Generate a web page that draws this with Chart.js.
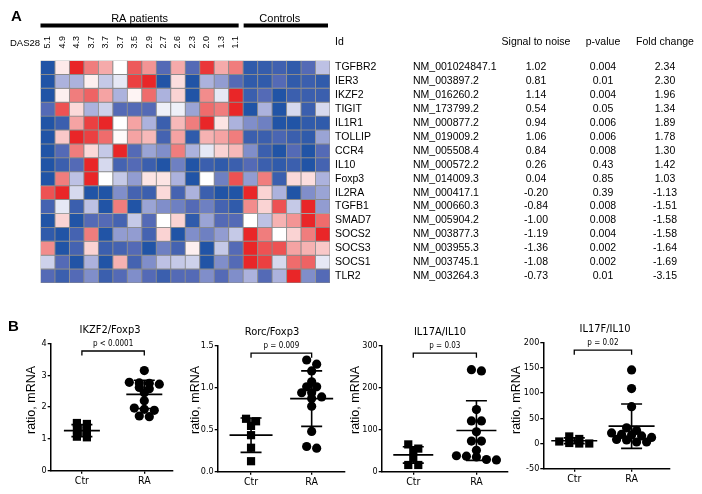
<!DOCTYPE html>
<html><head><meta charset="utf-8">
<script src="https://cdn.jsdelivr.net/npm/chart.js@4.4.1/dist/chart.umd.min.js"></script>
<style>
html,body{margin:0;padding:0;background:#fff;width:702px;height:494px;overflow:hidden;}
canvas{position:absolute;left:0;top:0;}
</style></head><body>
<canvas id="heat" width="702" height="494"></canvas>
<canvas id="p1" width="702" height="494"></canvas>
<canvas id="p2" width="702" height="494"></canvas>
<canvas id="p3" width="702" height="494"></canvas>
<canvas id="p4" width="702" height="494"></canvas>
<script>
// ---------- DATA ----------
const das28 = ['5.1','4.9','4.3','3.7','3.7','3.7','3.5','2.9','2.7','2.6','2.3','2.0','1.3','1.1','','','','','',''];
const genes = ['TGFBR2','IER3','IKZF2','TIGIT','IL1R1','TOLLIP','CCR4','IL10','Foxp3','IL2RA','TGFB1','SMAD7','SOCS2','SOCS3','SOCS1','TLR2'];
const refseq = ['NM_001024847.1','NM_003897.2','NM_016260.2','NM_173799.2','NM_000877.2','NM_019009.2','NM_005508.4','NM_000572.2','NM_014009.3','NM_000417.1','NM_000660.3','NM_005904.2','NM_003877.3','NM_003955.3','NM_003745.1','NM_003264.3'];
const signalToNoise = ['1.02','0.81','1.14','0.54','0.94','1.06','0.84','0.26','0.04','-0.20','-0.84','-1.00','-1.19','-1.36','-1.08','-0.73'];
const pValue = ['0.004','0.01','0.004','0.05','0.006','0.006','0.008','0.43','0.85','0.39','0.008','0.008','0.004','0.002','0.002','0.01'];
const foldChange = ['2.34','2.30','1.96','1.34','1.89','1.78','1.30','1.42','1.03','-1.13','-1.51','-1.58','-1.58','-1.64','-1.69','-3.15'];
// relative expression (blue = low, red = high), one row per gene, 14 RA + 6 controls
const zScores = [
 [-3,0.4,3,2,1.4,0,2.4,1.7,-2,1.4,-2,2.8,1.4,2,-2.7,-2.6,-2.4,-2.7,-2,-0.8],
 [-3,-1,-1,0.3,-0.7,-0.3,2.7,3,-3,0.6,-3,-1,-1.3,-2,-2.7,-2.7,-2,-2.7,-2.5,-2.7],
 [-3,0.3,2,2.3,1.5,-1,0.2,2.2,-1,0.8,-3,1.8,-0.3,3,-2.5,-2,-3,-2.5,-2.5,-2.5],
 [-2,2.5,0.7,-1,-0.6,-2,-2,-2,-0.2,-0.2,-1.2,2.2,2,3,-3,-1,-3,-0.5,-2.5,-0.5],
 [-3,-2.5,1.5,2.7,3,0,1.5,-1,-2.5,1.2,2,3,0.5,-1,-1.5,-1.7,-3,-3,-2.7,-2.7],
 [-3,1,3,2.7,2.2,0.1,1.5,1.2,-2.3,1.5,-2.7,1.3,1.5,2,-2.5,-2.5,-2.2,-2.5,-2.7,-1.2],
 [-3,-2,2,0.7,-0.7,3,-2,-1.2,-1.5,2,-1,-0.3,0.8,1.2,-1.5,-2.5,-3,-2,-3,-2],
 [-3,-2.5,-2,3,-0.5,-2.3,-2,-2.5,-3,-1.7,-3,-2.5,-2.7,-2.5,-2,-2.5,-2.7,-2.5,-3,-2.3],
 [-3,2,-0.8,3,0,-0.7,-1.3,0.5,0.5,-1,-3,0,-1.7,2.5,-1.3,2,-2.5,0.7,0.6,-1],
 [2.5,3,-0.5,-3,-3,-1.5,-2.3,-2.5,0.7,-2.3,-1,-2.5,-3,-3,3,0.8,-1,-3,-1.5,-1.2],
 [-2.3,-0.3,-2.5,-0.8,-3,2,-3,-1.2,-1.5,-1.7,-2,-1.7,-2.3,-2.7,1.8,0.8,2.5,-0.7,3,-1.3],
 [-3,0.8,-3,-2,-2,-2.3,-0.7,-2,0,0.8,-2.7,-1.2,-2,-2,0,-0.8,1.3,1.7,3,2.2],
 [-2.7,-3,-2.3,2,-3,-1.3,-1.3,-2.3,0.8,-3,-1.5,-1.7,-1.3,-0.7,3,2,0,0.8,2,3],
 [1.8,-3,-2.3,0.8,-2.5,-2.3,-2,-3,-1.7,-2.3,0.3,-3,-0.7,-2,3,2.5,2.5,1.5,1.3,1],
 [-0.6,-2,-3,-1,-3,1.3,-2.3,-1.5,-0.8,-0.7,-0.6,-3,-1.5,-2,3,2.7,-0.5,2.2,2.3,-0.3],
 [-2,-2.5,-2,-1.5,-2.5,-2,-1.5,-2,-2.5,-2,-2,-1.5,-2,-1.5,-1,-2,-1,3,-1.5,-2]
];
const groupLabels = ['Ctr','RA'];
const ikzfCtr = [1.5,1.47,1.3,1.25,1.07,1.05];
const ikzfRA = [3.15,2.78,2.76,2.75,2.72,2.62,2.58,2.45,2.2,1.97,1.93,1.9,1.72,1.7];
const ikzfMean = [1.26,2.40], ikzfSD = [0.19,0.445];
const rorcCtr = [0.60,0.63,0.545,0.435,0.285,0.125];
const rorcRA = [1.33,1.28,1.20,1.07,1.01,1.01,0.94,0.94,0.89,0.87,0.78,0.48,0.30,0.28];
const rorcMean = [0.435,0.87], rorcSD = [0.205,0.33];
const il17aCtr = [55,65,49,33,16,16];
const il17aRA = [243,240,148,121,121,95,73,73,51,38,37,35,29,28];
const il17aMean = [40,98], il17aSD = [19.5,71];
const il17fCtr = [9,1,0,0,4,14];
const il17fRA = [146,109,73,31,26,21,18,17,15,12,8,7,3,3];
const il17fMean = [5.5,34.4], il17fSD = [5.7,44];
const pTexts = ['p < 0.0001','p = 0.009','p = 0.03','p = 0.02'];
const panelTitles = ['IKZF2/Foxp3','Rorc/Foxp3','IL17A/IL10','IL17F/IL10'];

// ---------- STYLE ----------
const SANS = "'Liberation Sans', Arial, Helvetica, sans-serif";
const NARROW = "'Liberation Sans Narrow','Arial Narrow','DejaVu Sans Condensed',sans-serif";
Chart.defaults.font.family = SANS;
Chart.defaults.color = '#000';
const W = 702, H = 494;

const heatStops = [[-3,[33,84,166]],[-2,[84,106,182]],[-1,[172,178,221]],[0,[255,255,255]],[1,[249,200,200]],[2,[240,125,125]],[3,[233,38,40]]];
function heatColor(v){
  v = Math.max(-3, Math.min(3, v));
  for (let i = 0; i < heatStops.length - 1; i++) {
    const [a, ca] = heatStops[i], [b, cb] = heatStops[i+1];
    if (v <= b) { const t = (v - a) / (b - a);
      return 'rgb(' + ca.map((c,k)=>Math.round(c + (cb[k]-c)*t)).join(',') + ')'; }
  }
}

// ---------- HEATMAP ----------
const heatDecor = {
  id: 'heatDecor',
  afterDraw(chart) {
    const ctx = chart.ctx, xs = chart.scales.x, ys = chart.scales.y;
    const half = (xs.getPixelForValue(1) - xs.getPixelForValue(0)) / 2;
    const top = chart.chartArea.top;
    ctx.save();
    ctx.fillStyle = '#000';
    ctx.font = 'bold 15px ' + SANS; ctx.textAlign = 'left'; ctx.textBaseline = 'alphabetic';
    ctx.fillText('A', 11, 21);
    const raL = xs.getPixelForValue(0) - half, raR = xs.getPixelForValue(13) + half - 4.5;
    const coL = xs.getPixelForValue(14) - half + 0.5, coR = xs.getPixelForValue(19) + half - 2;
    ctx.fillRect(raL, top - 37, raR - raL, 4);
    ctx.fillRect(coL, top - 37, coR - coL, 4);
    ctx.font = '11px ' + SANS; ctx.textAlign = 'center';
    ctx.fillText('RA patients', (raL + raR) / 2, top - 39);
    ctx.fillText('Controls', (coL + coR) / 2 - 6, top - 39);
    ctx.font = '9.5px ' + SANS; ctx.textAlign = 'left';
    ctx.fillText('DAS28', 10, top - 14.5);
    ctx.font = '9px ' + SANS;
    das28.forEach((d, i) => {
      if (!d) return;
      ctx.save();
      ctx.translate(xs.getPixelForValue(i), top - 12);
      ctx.rotate(-Math.PI / 2);
      ctx.textAlign = 'left'; ctx.textBaseline = 'middle';
      ctx.fillText(d, 0, 0);
      ctx.restore();
    });
    // table
    const colGene = 335, colId = 413, colSN = 536, colP = 603, colFC = 665;
    ctx.font = '10.5px ' + SANS; ctx.textBaseline = 'alphabetic';
    const hy = top - 15.5;
    ctx.textAlign = 'left'; ctx.fillText('Id', colGene, hy);
    ctx.textAlign = 'center';
    ctx.fillText('Signal to noise', colSN, hy);
    ctx.fillText('p-value', colP, hy);
    ctx.fillText('Fold change', colFC, hy);
    ctx.textBaseline = 'middle';
    genes.forEach((g, r) => {
      const y = ys.getPixelForValue(r + 0.5);
      ctx.textAlign = 'left';
      ctx.fillText(g, colGene, y);
      ctx.fillText(refseq[r], colId, y);
      ctx.textAlign = 'center';
      ctx.fillText(signalToNoise[r], colSN, y);
      ctx.fillText(pValue[r], colP, y);
      ctx.fillText(foldChange[r], colFC, y);
    });
    ctx.restore();
  }
};

new Chart(document.getElementById('heat'), {
  type: 'bar',
  data: {
    labels: das28.map((d, i) => 'col' + i),
    datasets: genes.map((g, r) => ({
      label: g,
      data: zScores[r].map(() => 1),
      backgroundColor: zScores[r].map(heatColor),
      borderColor: '#8a8a8a', borderWidth: 0.8, borderSkipped: false,
      barPercentage: 1, categoryPercentage: 1
    }))
  },
  options: {
    responsive: false, animation: false, devicePixelRatio: 1,
    layout: { padding: { left: 40.5, right: W - 330, top: 60.5, bottom: H - 283 } },
    plugins: { legend: { display: false }, tooltip: { enabled: false }, title: { display: false } },
    scales: {
      x: { stacked: true, display: false },
      y: { stacked: true, display: false, min: 0, max: 16, reverse: true }
    }
  },
  plugins: [heatDecor]
});

// ---------- SCATTER PANELS ----------
const panels = [
  { id:'p1', ctr:ikzfCtr, ra:ikzfRA, mean:ikzfMean, sd:ikzfSD, yMin:0, yMax:4, step:1, dec:0,
    area:[50.7,343.5,173,470.7], xr:[-0.5,1.46], titleX:110, yTitleX:31.7, meanW:36, letter:true },
  { id:'p2', ctr:rorcCtr, ra:rorcRA, mean:rorcMean, sd:rorcSD, yMin:0, yMax:1.5, step:0.5, dec:1,
    area:[217.7,345.7,345,471.7], xr:[-0.55,1.55], titleX:272, yTitleX:195.7, meanW:43 },
  { id:'p3', ctr:il17aCtr, ra:il17aRA, mean:il17aMean, sd:il17aSD, yMin:0, yMax:300, step:100, dec:0,
    area:[381.7,345.7,508,471.7], xr:[-0.5,1.5], titleX:440, yTitleX:356, meanW:40 },
  { id:'p4', ctr:il17fCtr, ra:il17fRA, mean:il17fMean, sd:il17fSD, yMin:-50, yMax:200, step:50, dec:0,
    area:[543.3,342.7,670,468.7], xr:[-0.54,1.67], titleX:605, yTitleX:516.7, meanW:46 }
];

// column-scatter layout: points whose pixel heights fall within one band share a row, centred on the group
function swarm(values, center, xs, ys, spacing, band) {
  const out = new Array(values.length);
  const cx = xs.getPixelForValue(center);
  const order = values.map((v, i) => i).sort((a, b) => values[b] - values[a]);
  const rows = [];
  order.forEach(i => {
    const py = ys.getPixelForValue(values[i]);
    const last = rows[rows.length - 1];
    if (last && py - last.start <= band) last.items.push(i);
    else rows.push({ start: py, items: [i] });
  });
  rows.forEach(r => {
    const n = r.items.length;
    r.items.forEach((i, j) => {
      out[i] = xs.getValueForPixel(cx + (j - (n - 1) / 2) * spacing);
    });
  });
  return out;
}

function makeDecor(P, idx) {
  return {
    id: 'decor' + idx,
    afterDatasetsDraw(chart) {
      const ctx = chart.ctx, xs = chart.scales.x, ys = chart.scales.y;
      ctx.save();
      ctx.strokeStyle = '#000'; ctx.lineWidth = 1.6;
      [0, 1].forEach(g => {
        const cx = xs.getPixelForValue(g);
        const m = ys.getPixelForValue(P.mean[g]);
        const hi = ys.getPixelForValue(P.mean[g] + P.sd[g]);
        const lo = ys.getPixelForValue(P.mean[g] - P.sd[g]);
        ctx.beginPath();
        ctx.moveTo(cx - P.meanW / 2, m); ctx.lineTo(cx + P.meanW / 2, m);
        ctx.moveTo(cx - 10.5, hi); ctx.lineTo(cx + 10.5, hi);
        ctx.moveTo(cx - 10.5, lo); ctx.lineTo(cx + 10.5, lo);
        ctx.moveTo(cx, hi); ctx.lineTo(cx, lo);
        ctx.stroke();
      });
      ctx.restore();
    },
    afterDraw(chart) {
      const ctx = chart.ctx, xs = chart.scales.x;
      const top = chart.chartArea.top;
      ctx.save();
      ctx.fillStyle = '#000'; ctx.strokeStyle = '#000';
      if (P.letter) {
        ctx.font = 'bold 15px ' + SANS; ctx.textAlign = 'left'; ctx.textBaseline = 'alphabetic';
        ctx.fillText('B', 8, 330.5);
      }
      ctx.font = '11px ' + NARROW; ctx.textAlign = 'center'; ctx.textBaseline = 'alphabetic';
      ctx.fillText(panelTitles[idx], P.titleX, top - 11);
      // bracket
      const x0 = xs.getPixelForValue(0), x1 = xs.getPixelForValue(1);
      const by = top + 7.5;
      ctx.lineWidth = 1.3;
      ctx.beginPath();
      ctx.moveTo(x0, by + 4.5); ctx.lineTo(x0, by); ctx.lineTo(x1, by); ctx.lineTo(x1, by + 4.5);
      ctx.stroke();
      ctx.font = '8px ' + NARROW;
      ctx.fillText(pTexts[idx], (x0 + x1) / 2, by - 5);
      // y title
      ctx.save();
      ctx.translate(P.yTitleX, 400);
      ctx.rotate(-Math.PI / 2);
      ctx.font = '12.5px ' + SANS; ctx.textBaseline = 'middle';
      ctx.fillText('ratio, mRNA', 0, 0);
      ctx.restore();
      ctx.restore();
    }
  };
}

panels.forEach((P, idx) => {
  const yAxisW = 40, xAxisH = 22;
  const chart = new Chart(document.getElementById(P.id), {
    type: 'scatter',
    data: { datasets: [
      { label: 'Ctr', data: P.ctr.map(v => ({ x: 0, y: v })), pointStyle: 'rect', radius: 5.8, hoverRadius: 5.8,
        backgroundColor: '#000', borderColor: '#000', borderWidth: 0 },
      { label: 'RA', data: P.ra.map(v => ({ x: 1, y: v })), pointStyle: 'circle', radius: 4.6, hoverRadius: 4.6,
        backgroundColor: '#000', borderColor: '#000', borderWidth: 0 }
    ]},
    options: {
      responsive: false, animation: false, devicePixelRatio: 1, clip: false,
      layout: { padding: { left: P.area[0] - yAxisW, top: P.area[1], right: W - P.area[2], bottom: H - P.area[3] - xAxisH } },
      plugins: { legend: { display: false }, tooltip: { enabled: false }, title: { display: false } },
      scales: {
        x: {
          type: 'linear', min: P.xr[0], max: P.xr[1],
          afterFit: s => { s.height = xAxisH; },
          afterBuildTicks: s => { s.ticks = [{ value: 0 }, { value: 1 }]; },
          ticks: { callback: v => groupLabels[v], font: { family: NARROW, size: 10.5 }, color: '#000', padding: 1, autoSkip: false, maxRotation: 0 },
          grid: { display: true, drawOnChartArea: false, drawTicks: true, tickLength: 3, color: '#000', lineWidth: 1.3 },
          border: { display: true, color: '#000', width: 1.5 }
        },
        y: {
          min: P.yMin, max: P.yMax,
          afterFit: s => { s.width = yAxisW; },
          ticks: { stepSize: P.step, callback: v => v.toFixed(P.dec), font: { family: NARROW, size: 9 }, color: '#000', padding: 1 },
          grid: { display: true, drawOnChartArea: false, drawTicks: true, tickLength: 3, color: '#000', lineWidth: 1.3 },
          border: { display: true, color: '#000', width: 1.5 }
        }
      }
    },
    plugins: [makeDecor(P, idx)]
  });
  const xs = chart.scales.x, ys = chart.scales.y;
  const cx = swarm(P.ctr, 0, xs, ys, 10, 5);
  const rx = swarm(P.ra, 1, xs, ys, 10, 5);
  chart.data.datasets[0].data = P.ctr.map((v, i) => ({ x: cx[i], y: v }));
  chart.data.datasets[1].data = P.ra.map((v, i) => ({ x: rx[i], y: v }));
  chart.update();
});
</script>
</body></html>
